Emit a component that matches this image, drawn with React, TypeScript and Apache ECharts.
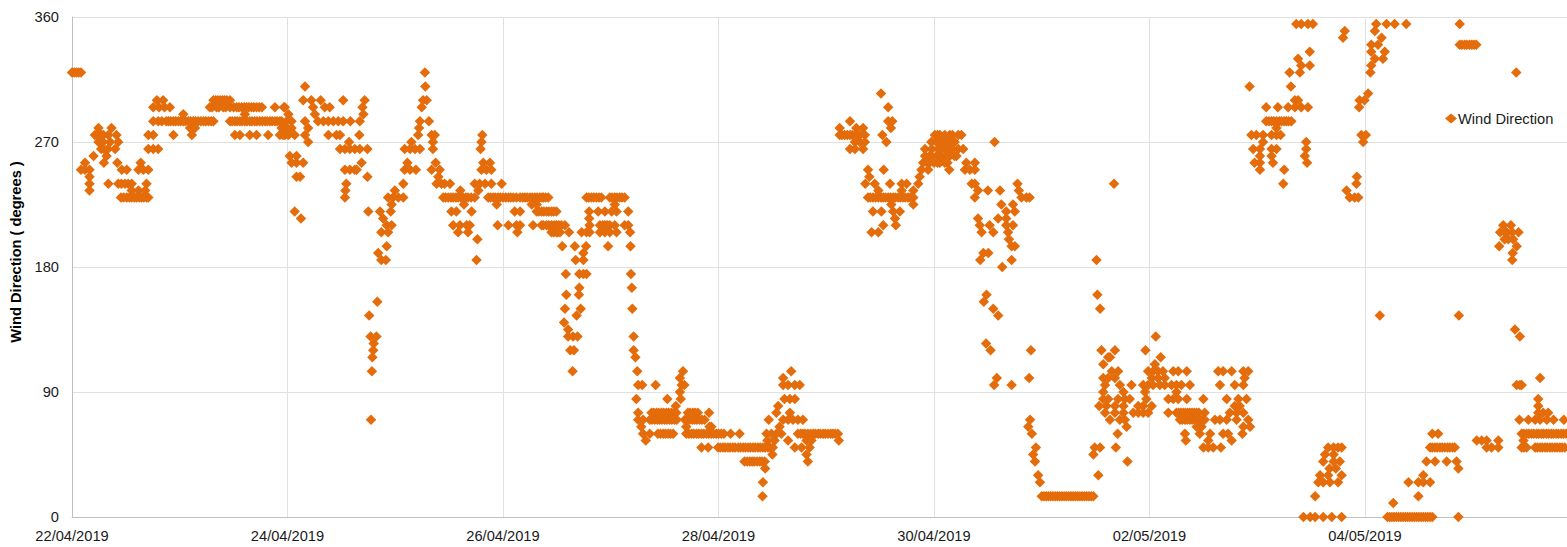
import React, { useEffect, useRef } from "react";
import * as echarts from "echarts";

// Each row: [wind direction in degrees, ...hours since 22/04/2019 00:00]
type Row = number[];

const dateLabels = ["22/04/2019", "24/04/2019", "26/04/2019", "28/04/2019", "30/04/2019", "02/05/2019", "04/05/2019"];
const yTicks = [0, 90, 180, 270, 360];

const apr22to23: Row[] = [
  [320, 0, 0.5, 1, 1.5, 2],
  [300, 18.9, 20.3, 31.5, 32, 32.5, 33, 33.5, 34, 34.5, 35.2],
  [295, 18.1, 19.4, 20.6, 21.8, 30.7, 31.2, 32.2, 32.7, 33.7, 34.2, 35.2, 36, 36.7, 37.2, 37.8, 38.4, 38.9, 39.4, 40, 40.5, 41.1, 41.7, 42.3, 45.2, 47.4],
  [290, 24.8, 38.5],
  [285, 18.1, 19.2, 20, 21, 21.5, 22, 22.6, 23.1, 23.7, 24.2, 24.8, 25.3, 25.9, 26.4, 27, 27.5, 28.1, 28.7, 29.3, 29.8, 30.4, 31, 31.5, 35.2, 35.7, 36.3, 36.8, 37.4, 37.9, 38.5, 39, 39.6, 40.1, 40.7, 41.2, 41.8, 42.4, 43, 43.5, 44.1, 44.6, 45.2, 45.7, 46.3],
  [280, 5.9, 8.8, 26.3, 27.4, 47.1],
  [275, 5.1, 5.5, 6, 6.6, 7, 8.1, 9.9, 17, 18.1, 22.6, 26.7, 36.3, 37.4, 39.6, 41.1, 43.7, 46.3, 47.4],
  [270, 5.9, 6.9, 8.5, 10.3],
  [265, 6.5, 7.1, 8, 9.6, 17, 18.1, 19.2],
  [260, 4.8, 7.7],
  [255, 2.9, 7.1, 10.1, 15.3],
  [250, 2, 2.9, 3.9, 11.1, 12.2, 14.8, 15.9, 17],
  [245, 3.9],
  [240, 3.9, 8.1, 10.3, 11, 11.8, 12.5, 13.3, 16.6],
  [235, 3.9, 13.3, 14.8, 16.3],
  [230, 10.9, 11.5, 12.2, 12.8, 13.3, 13.9, 14.4, 15, 15.5, 16, 16.6, 17],
];

const apr24to25: Row[] = [
  [320, 78.6],
  [310, 51.9, 78.7],
  [300, 51.5, 53.3, 55.4, 60.4, 65.2, 78.2, 79],
  [295, 47.2, 53.7, 56.3, 57.4, 64.7, 77.9],
  [290, 48.2, 54.1, 64.9],
  [285, 46.7, 47.8, 48.9, 51.9, 54.8, 56, 57.1, 58.2, 59.3, 60.4, 62, 64.1, 77.5, 79.5],
  [280, 46.7, 47.8, 48.9, 52.6, 77.3],
  [275, 47, 48.2, 49.6, 51.9, 57.1, 58.9, 59.7, 64, 77.1, 80.1, 80.8, 91.4],
  [270, 52.6, 61.7, 75.6, 80.4, 91.2],
  [265, 59.7, 60.8, 61.9, 63, 64.1, 65.8, 74.1, 75.3, 76.4, 77.5, 80.4, 91],
  [260, 48.5, 50],
  [255, 48.9, 50, 51.5, 64.5, 74.7, 81, 91.6, 93.1],
  [250, 60.8, 61.9, 63, 63.4, 74.1, 75.3, 76.6, 80.1, 81.9, 91.2, 92.3, 93.4],
  [245, 50, 50.8, 65.8, 81.6],
  [240, 61.1, 73.8, 81.2, 82.3, 83, 84.2, 89.7, 90.8, 92, 93.4, 95.7],
  [235, 60.9, 71.9, 86.5, 90.5],
  [230, 60.8, 70.4, 71.5, 72.7, 73.8, 82.7, 83.2, 83.8, 84.4, 84.9, 85.5, 86, 86.6, 87.1, 87.7, 88.2, 88.9, 89.7, 92.7, 93.2, 93.8, 94.3, 94.9, 95.4],
  [225, 71.2, 87.3, 94.6],
  [220, 49.6, 66, 68.6, 71, 84.5, 85.6, 89],
  [215, 51, 69.3],
  [210, 70.1, 71.2, 84.9, 86.4, 87.9, 88.6, 94.8],
  [205, 68.9, 70.4, 86, 88.2],
  [200, 90.3],
  [195, 70.1],
  [190, 68.2],
  [185, 68.9, 69.9, 90.1],
  [155, 68],
  [145, 66.2],
  [130, 66.5, 67.8],
  [125, 67.2],
  [120, 67.1],
  [115, 66.9],
  [105, 66.8],
  [70, 66.6],
];

const apr26to27: Row[] = [
  [230, 96, 96.6, 97.2, 97.7, 98.3, 99, 99.8, 100.4, 100.9, 101.4, 102, 102.5, 103.1, 103.6, 104.2, 104.7, 105, 105.5, 106.1, 114.6, 115.1, 115.7, 116.2, 116.8, 117.4, 117.9, 119.8, 120.3, 120.9, 121.4, 122, 122.5, 123.1],
  [225, 102.4, 103.5, 120.9],
  [220, 98.6, 99.8, 103.5, 104, 104.6, 105.1, 105.7, 106.2, 106.8, 107.3, 107.9, 115.2, 117.2, 118.7, 120.2, 121.3, 123.9],
  [215, 115.2],
  [210, 97.2, 99, 99.8, 102.7, 104.6, 105, 105.7, 106.2, 106.8, 107.4, 107.9, 108.4, 109, 109.8, 115.3, 117.6, 118.2, 118.7, 119.2, 119.8, 120.9, 123.1, 123.9],
  [205, 99.2, 106.8, 107.3, 107.9, 108.2, 108.7, 110.7, 113.5, 114.6, 115.3, 117.6, 118.7, 119.8, 121.3, 124.3],
  [195, 109.2, 112, 114.5, 119.4, 124.4],
  [190, 113.9],
  [185, 112.2, 113.9],
  [175, 110, 113, 113.9, 114.6, 124.5],
  [165, 113, 124.7],
  [160, 110.1, 112.9],
  [150, 109.8, 113.3, 124.8],
  [145, 112.4],
  [140, 109.6],
  [135, 110.5],
  [130, 110.5, 111.6, 112.6, 125.1],
  [120, 111, 111.8, 125.1],
  [115, 125.5],
  [105, 111.5, 125.9, 136.1],
  [100, 135.4],
  [95, 126.1, 127, 130, 135.8, 136.4],
  [90, 135.4],
  [85, 125.7, 132.6, 135.6],
  [80, 134.5],
  [75, 126.1, 129.1, 129.6, 130.2, 130.7, 131.3, 131.8, 132.4, 132.9, 133.5, 134, 134.6, 137.2, 137.7, 138.3, 138.8, 139.4, 141.9],
  [70, 126.1, 127.2, 128.7, 129.2, 129.8, 130.4, 130.9, 131.4, 132, 132.5, 133.1, 133.6, 134.2, 134.7, 136.5, 137, 137.6, 138.2, 138.7, 139.2, 139.8, 140.3, 140.9],
  [65, 126.8, 136.8, 142, 142.4],
  [60, 127.2, 128.7, 130.5, 131.1, 131.7, 132.2, 132.8, 133.3, 133.9, 136.8, 137.4, 138, 138.5, 139.1, 139.6, 140.2, 140.7, 141.3, 141.8, 142.4, 142.9, 143.5, 144, 144.6, 145.2, 146.7, 148.7],
  [55, 127.8],
  [50, 140.2, 141.7, 143.9, 144.4],
];

const apr28to29: Row[] = [
  [105, 160.2],
  [100, 158.4],
  [95, 158.4, 159.5, 161, 162.1],
  [85, 158.7, 159.9, 161],
  [80, 157.3],
  [75, 156.9, 159.9],
  [70, 155.2, 158.4, 159.5, 160.6, 161.7, 162.8],
  [65, 157.6],
  [60, 154.7, 155.8, 156.9, 158, 161.7, 162.3, 162.8, 163.3, 163.9, 164.5, 165.1, 165.6, 166.2, 166.7, 167.3, 167.8, 168.4, 169, 169.5, 170, 170.6],
  [55, 154.9, 156.5, 159.5, 163.6, 164.7, 170.8],
  [50, 145, 145.5, 146.1, 146.6, 147.2, 147.7, 148.4, 148.9, 149.5, 150, 150.6, 151.1, 151.7, 152.2, 152.8, 153.3, 153.9, 154.4, 155, 155.5, 156.1, 161, 162.5, 164.3],
  [45, 156, 163.6],
  [40, 149.8, 150.4, 151, 151.5, 152, 152.6, 153.2, 153.7, 154.3, 163.9],
  [35, 154.4],
  [25, 153.9],
  [15, 153.8],
  [305, 180.2],
  [295, 181.8],
  [285, 173.3, 181.8, 182.7],
  [280, 171, 174.7, 176.2, 182.4],
  [275, 171, 171.5, 172.1, 172.7, 173.3, 173.8, 174.4, 175, 175.5, 176.6, 180.5],
  [270, 174.4, 175.5, 176.6, 181.4],
  [265, 173.3, 174.4, 176.2],
  [250, 177.3, 180.8],
  [245, 177.6],
  [240, 176.7, 178.8, 182.2, 184.8, 185.9],
  [235, 179.6, 184.8, 187.4],
  [230, 177.3, 177.8, 178.4, 179, 179.6, 180.2, 180.7, 181.2, 181.8, 182.3, 182.9, 183.4, 184, 184.5, 185.1, 185.6, 186.2, 186.7, 187.4],
  [225, 182.5, 187.4],
  [220, 178.4, 180.3, 182.9, 184.4],
  [215, 183.3],
  [210, 180.7, 183.5],
  [205, 178.1, 179.6],
];

const apr30toMay1: Row[] = [
  [275, 192.2, 192.8, 193.3, 194.4, 195.5, 196.1, 197.4, 198.1],
  [270, 191.4, 192.6, 193, 193.7, 194.4, 195, 195.5, 196.6, 205.5],
  [265, 190, 191.5, 192.9, 193.7, 194.5, 195.4, 196, 197.4, 198.5],
  [260, 190, 191, 191.4, 192.6, 193, 193.7, 194.8, 195.5, 196.6, 197],
  [255, 189.6, 190.5, 191, 192, 192.8, 193.3, 194.4, 195, 199.2, 201.1],
  [250, 189.2, 190.7, 195.4, 198.9, 200, 201.1],
  [245, 188.8],
  [240, 188.5, 200.4, 201.1, 210.6],
  [235, 201.8, 204, 206.7, 210.9],
  [230, 201.1, 211.5, 212.6, 213.3],
  [225, 207, 209.6],
  [220, 208.1, 210],
  [215, 201.8, 206.3, 208.1],
  [210, 202.2, 204.4, 208.1, 209.6],
  [205, 202.6, 205.2, 208.5],
  [200, 208.7],
  [195, 209.3, 210],
  [190, 203, 204.1],
  [185, 202.3, 209.3, 228.2],
  [180, 207.2],
  [160, 203.7, 228.4],
  [155, 203.1],
  [150, 205.2, 229],
  [145, 206.3],
  [125, 203.6],
  [120, 204.6, 213.6, 229.3, 232.3, 239.1],
  [100, 206, 213.2],
  [95, 205.4, 209.3],
  [70, 213.4],
  [65, 213],
  [60, 213.8],
  [50, 214.7, 227.8, 229],
  [45, 214.1, 227.5],
  [40, 214.5],
  [30, 215.2, 228.6],
  [25, 215.6],
  [15, 216, 216.5, 217, 217.5, 218, 218.5, 219, 219.5, 220, 220.5, 221, 221.5, 222, 222.5, 223, 223.5, 224, 224.5, 225, 225.5, 226, 226.5, 227, 227.5],
];

const may1to3: Row[] = [
  [240, 232.1],
  [130, 241.4],
  [115, 230.8, 231.2, 242.5],
  [110, 229.7, 241.2],
  [105, 231.6, 233, 239.7, 240.8, 241.9, 243, 245.3, 246.4, 248.3, 255.3, 256.4, 258.3, 260.9, 262],
  [100, 229.7, 230.8, 232.3, 240.5, 241.9, 243.4, 261.2],
  [95, 230.1, 233.4, 236, 238.6, 239.7, 240.8, 242.3, 243.4, 244.9, 246, 247.1, 249, 255.7, 259, 260.9],
  [90, 229.7, 234.2, 239, 246],
  [85, 229.7, 230.8, 233, 234.5, 235.6, 239.3, 244.2, 245.3, 246.4, 248.3, 252, 257.2, 259.8, 261.6],
  [80, 228.8, 230.4, 232.3, 234.2, 237.5, 238.6, 240.5, 259, 260.1],
  [75, 230.1, 232.3, 234.2, 236.4, 237.5, 238.6, 239.7, 244.2, 246, 246.5, 247, 247.5, 248, 248.5, 249, 249.5, 250, 250.5, 251, 252.3, 257.9, 259.4, 260.9],
  [70, 231.2, 233.4, 234.5, 246.8, 247.3, 247.9, 248.4, 249, 249.5, 250.1, 250.6, 251.2, 251.8, 252.3, 254.6, 255.7, 257.2, 259.4, 262],
  [65, 234.9, 250.5, 251.6, 260.9, 262.4],
  [60, 232.9, 247.9, 251.2, 253.5, 256.4, 257.5, 260.7],
  [55, 248.1, 253.1, 258.3],
  [50, 232.5, 252, 253.1, 254.2, 255.9],
  [40, 235.1],
  [355, 272.7, 273.8, 275.3, 276.4],
  [335, 275.7],
  [330, 273.1],
  [325, 275.7, 273.8],
  [320, 271.2, 273.5],
  [310, 262.3, 271.5],
  [300, 272.4, 273.1],
  [295, 266, 268.6, 270.9, 272.4, 273.8, 275.3],
  [285, 266, 266.6, 267.2, 267.7, 268.3, 268.9, 269.4, 270, 270.5, 271, 271.6],
  [280, 268.3],
  [275, 262.7, 263.8, 265.3, 267.2, 268.3, 269.2],
  [270, 265.3, 274.9],
  [265, 263.1, 264.6, 267.2, 268.3, 274.9],
  [260, 264.6, 267.2, 274.6],
  [255, 263.4, 264.6, 267.5, 275.1],
  [250, 264.6, 270],
  [240, 269.8],
];

const may3to5: Row[] = [
  [355, 290.5, 292.8, 294.6, 297.2, 309.1],
  [350, 283.5, 290.2],
  [345, 283.1, 291.7],
  [340, 289.4, 290.9, 309.1, 309.6, 310.2, 310.7, 311.3, 311.8, 312.3, 312.8],
  [335, 289.4, 292.4],
  [330, 290.2, 292],
  [325, 289.4],
  [320, 289.2, 321.7],
  [305, 288.7],
  [300, 286.8, 287.9],
  [295, 286.7],
  [275, 287.2, 288.2],
  [270, 287.6],
  [245, 286.2],
  [240, 286.1],
  [235, 283.9],
  [230, 284.6, 285.7, 286.5],
  [145, 291.3, 308.9],
  [0, 274.3, 275.8, 276.9, 278.7, 280.6, 282.8, 293, 293.5, 294, 294.5, 295, 295.5, 296, 296.5, 297, 297.5, 298, 298.5, 299, 299.5, 300, 300.5, 301, 301.5, 302, 302.5, 303, 308.8],
  [15, 276.9, 299.9],
  [10, 294.3],
  [25, 277.6, 278.7, 280.2, 282, 297.7, 299.9, 301, 302.5],
  [30, 278, 279.8, 282.8, 301],
  [35, 280.1, 281.5, 308.8],
  [40, 278.7, 281, 282.4, 301.7, 303.6, 306.2, 308.4],
  [45, 279.1, 281],
  [50, 279.8, 281, 282, 282.8, 302.5, 303, 303.6, 304.1, 304.7, 305.2, 305.8, 306.4, 306.9, 307.5, 308, 315.1, 316.2, 317.7, 322.9, 323.4, 324, 325.9, 326.4, 327, 327.5, 328.1, 328.6, 329.2, 329.7, 330.3, 330.8, 331.4, 331.9, 332.5],
  [55, 312.9, 314, 315.1, 317.7, 323.3],
  [60, 303, 304.3, 322.9, 323.4, 324, 324.5, 325.1, 325.6, 326.2, 326.7, 327.3, 327.8, 328.4, 328.9, 329.5, 330, 330.6, 331.1, 331.7, 332.2, 332.8],
  [70, 322.4, 324.4, 325.9, 327, 328.5, 330, 332.3],
  [75, 326.6, 327.7, 328.8],
  [80, 326.6],
  [85, 326.6],
  [95, 321.8, 322.5, 322.9],
  [100, 327],
  [130, 322.5],
  [135, 321.4],
  [185, 320.8],
  [190, 320.9],
  [195, 317.9, 321.8],
  [200, 319.9, 321, 319.1],
  [205, 318.1, 319.6, 322.2, 319.2, 320.8],
  [210, 318.8, 320.5],
];

const allRows = [...apr22to23, ...apr24to25, ...apr26to27, ...apr28to29, ...apr30toMay1, ...may1to3, ...may3to5];
const windPoints = allRows.flatMap(([deg, ...hours]) => hours.map((h) => [h, deg]));

const FONT = "'Liberation Sans', Arial, sans-serif";
const ORANGE = "#E46C0A";

export default function App() {
  const ref = useRef<HTMLDivElement>(null);
  useEffect(() => {
    const chart = echarts.init(ref.current!, undefined, { renderer: "svg" });
    chart.setOption({
      animation: false,
      backgroundColor: "#ffffff",
      grid: { left: 72, right: 0, top: 17, bottom: 30, containLabel: false, outerBoundsMode: "none" },
      legend: {
        show: true,
        left: 1440,
        top: 106,
        itemWidth: 12,
        itemHeight: 10,
        itemGap: 0,
        icon: "diamond",
        textStyle: { fontFamily: FONT, fontSize: 14.67, color: "#1a1a1a", padding: [0, 0, 0, -4] },
        data: [{ name: "Wind Direction", icon: "diamond" }],
      },
      xAxis: {
        type: "value",
        min: 0,
        max: 333,
        interval: 48,
        axisLine: { show: true, onZero: false, lineStyle: { color: "#bfbfbf", width: 1 } },
        axisTick: { show: false },
        splitLine: { show: true, lineStyle: { color: "#e0e0e0", width: 1 } },
        axisLabel: {
          margin: 11,
          fontFamily: FONT,
          fontSize: 14.67,
          color: "#1a1a1a",
          showMaxLabel: false,
          formatter: (v: number) => (v % 48 === 0 ? dateLabels[v / 48] ?? "" : ""),
        },
      },
      yAxis: {
        type: "value",
        min: yTicks[0],
        max: yTicks[yTicks.length - 1],
        interval: 90,
        name: "Wind Direction ( degrees )",
        nameLocation: "middle",
        nameGap: 49,
        nameRotate: 90,
        nameTextStyle: { fontFamily: FONT, fontSize: 14.67, fontWeight: "bold", color: "#000000", padding: [0, 0, 0, 30] },
        axisLine: { show: true, lineStyle: { color: "#bfbfbf", width: 1 } },
        axisTick: { show: false },
        splitLine: { show: true, lineStyle: { color: "#e0e0e0", width: 1 } },
        axisLabel: { margin: 13, fontFamily: FONT, fontSize: 14.67, color: "#1a1a1a" },
      },
      series: [
        {
          name: "Wind Direction",
          type: "scatter",
          symbol: "diamond",
          symbolSize: 10.5,
          clip: false,
          itemStyle: { color: ORANGE, opacity: 1 },
          data: windPoints,
        },
      ],
    });
    return () => chart.dispose();
  }, []);
  return <div ref={ref} style={{ position: "absolute", left: 0, top: 0, width: 1567, height: 547 }} />;
}
